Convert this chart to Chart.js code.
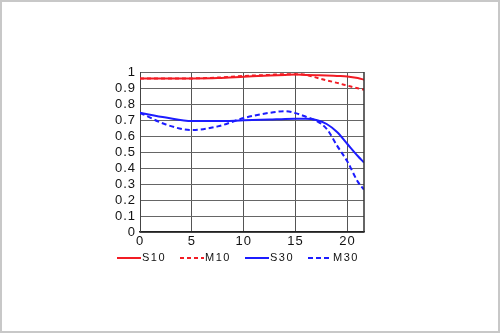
<!DOCTYPE html>
<html>
<head>
<meta charset="utf-8">
<script src="https://cdn.jsdelivr.net/npm/chart.js@4/dist/chart.umd.min.js"></script>
<style>
html,body{margin:0;padding:0;background:#fff;}
#wrap{width:500px;height:333px;position:relative;}
</style>
</head>
<body>
<div id="wrap"><canvas id="c" width="500" height="333"></canvas></div>
<script>
// Data
const positions = [0, 2.5, 5, 7.5, 10, 12.5, 14, 15, 16, 17, 18, 19, 20, 21, 21.6];
const s10 = [0.96, 0.96, 0.96, 0.962, 0.97, 0.978, 0.982, 0.984, 0.982, 0.98, 0.978, 0.975, 0.972, 0.962, 0.952];
const m10 = [0.96, 0.96, 0.96, 0.965, 0.975, 0.982, 0.986, 0.986, 0.982, 0.965, 0.948, 0.932, 0.915, 0.898, 0.889];
const s30 = [0.745, 0.715, 0.693, 0.693, 0.698, 0.703, 0.707, 0.708, 0.708, 0.70, 0.675, 0.625, 0.55, 0.475, 0.434];
const m30 = [0.745, 0.672, 0.637, 0.66, 0.712, 0.745, 0.755, 0.743, 0.72, 0.695, 0.645, 0.54, 0.44, 0.315, 0.265];
const seriesNames = ['S10', 'M10', 'S30', 'M30'];
const xTicks = [0, 5, 10, 15, 20];
const yTicks = [0, 0.1, 0.2, 0.3, 0.4, 0.5, 0.6, 0.7, 0.8, 0.9, 1];
const yTickLabels = ['0', '0.1', '0.2', '0.3', '0.4', '0.5', '0.6', '0.7', '0.8', '0.9', '1'];
const xMax = 21.6;

const RED = '#f21c24';
const BLUE = '#1c1cff';
const FONT = '"Liberation Sans", Arial, sans-serif';

function pts(vals){ return positions.map((x,i)=>({x:x, y:vals[i]})); }

const frame = {
  id:'frame',
  beforeLayout(chart){ chart.ctx.letterSpacing = '1px'; },
  beforeDraw(chart){
    const ctx = chart.ctx;
    ctx.letterSpacing = '1px';
    ctx.save();
    ctx.fillStyle = '#fff';
    ctx.fillRect(0,0,chart.width,chart.height);
    ctx.strokeStyle = '#c8c8c8';
    ctx.lineWidth = 2;
    ctx.strokeRect(1,1,chart.width-2,chart.height-2);
    ctx.restore();
  },
  afterDatasetsDraw(chart){
    const ctx = chart.ctx, a = chart.chartArea;
    ctx.save();
    ctx.strokeStyle = '#333';
    ctx.lineWidth = 1.5;
    ctx.beginPath();
    ctx.moveTo(a.right, a.top); ctx.lineTo(a.right, a.bottom);
    ctx.stroke();
    ctx.restore();
  },
  afterDraw(chart){
    // custom legend
    const ctx = chart.ctx, a = chart.chartArea;
    const y = a.bottom + 26;
    const starts = [a.left - 23, a.left + 40, a.left + 105, a.left + 168];
    ctx.save();
    ctx.font = '11px ' + FONT;
    ctx.letterSpacing = '1.5px';
    ctx.textBaseline = 'middle';
    ctx.fillStyle = '#111';
    chart.data.datasets.forEach((ds,i)=>{
      const x0 = starts[i];
      ctx.strokeStyle = ds.borderColor;
      ctx.lineWidth = 2;
      ctx.setLineDash(ds.borderDash || []);
      ctx.beginPath();
      ctx.moveTo(x0, y); ctx.lineTo(x0 + 24, y);
      ctx.stroke();
      ctx.setLineDash([]);
      ctx.fillText(ds.label, x0 + 25, y);
    });
    ctx.restore();
  }
};

new Chart(document.getElementById('c'), {
  type:'line',
  data:{
    datasets:[
      {label:seriesNames[0], data:pts(s10), borderColor:RED, borderWidth:2, pointRadius:0, cubicInterpolationMode:'monotone'},
      {label:seriesNames[1], data:pts(m10), borderColor:RED, borderWidth:2, borderDash:[4,3], pointRadius:0, cubicInterpolationMode:'monotone'},
      {label:seriesNames[2], data:pts(s30), borderColor:BLUE, borderWidth:2, pointRadius:0, cubicInterpolationMode:'monotone'},
      {label:seriesNames[3], data:pts(m30), borderColor:BLUE, borderWidth:2, borderDash:[5,3], pointRadius:0, cubicInterpolationMode:'monotone'}
    ]
  },
  options:{
    responsive:false,
    animation:false,
    layout:{padding:{left:100, right:136, top:72, bottom:83}},
    plugins:{legend:{display:false}, tooltip:{enabled:false}},
    scales:{
      x:{
        type:'linear', min:0, max:xMax,
        afterBuildTicks(s){ s.ticks = xTicks.map(v=>({value:v})); },
        afterFit(s){ s.height = 18; },
        grid:{color:'#555', lineWidth:1, drawTicks:false},
        border:{color:'#222', width:1.5},
        ticks:{color:'#111', padding:2, maxRotation:0, autoSkip:false, font:{size:13, family:FONT}}
      },
      y:{
        min:0, max:1,
        afterBuildTicks(s){ s.ticks = yTicks.map(v=>({value:v})); },
        ticks:{color:'#111', padding:4, autoSkip:false, font:{size:13, family:FONT},
          callback:(v,i)=>yTickLabels[i]},
        afterFit(s){ s.width = 40; },
        grid:{color:'#666', lineWidth:1, drawTicks:false},
        border:{color:'#444', width:1}
      }
    }
  },
  plugins:[frame]
});
</script>
</body>
</html>
